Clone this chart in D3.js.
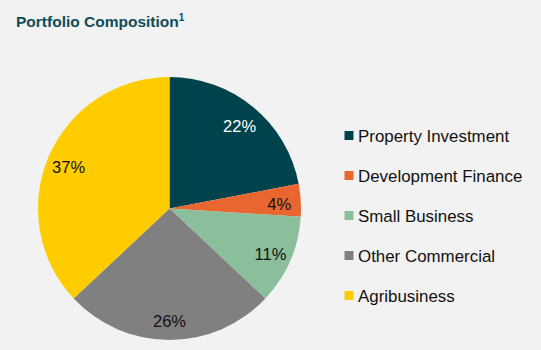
<!DOCTYPE html>
<html><head><meta charset="utf-8">
<script src="https://cdn.jsdelivr.net/npm/d3@7"></script>
<style>html,body{margin:0;padding:0;background:#F2F2F2;}svg{display:block;}</style>
</head><body><svg id="c" width="541" height="350"></svg>
<script>
const categories = ["Property Investment","Development Finance","Small Business","Other Commercial","Agribusiness"];
const values = [22, 4, 11, 26, 37];
const labels = ["22%","4%","11%","26%","37%"];
const colors = ["#00434C","#EA6630","#8BBE9A","#808080","#FFCC00"];
const labelColors = ["#FFFFFF","#111","#111","#111","#111"];

const svg = d3.select("#c");
const font = "'Liberation Sans', Arial, sans-serif";
svg.append("text").attr("x",16).attr("y",27).attr("fill","#0E4C5A")
  .style("font-family",font).style("font-weight","bold").style("font-size","15.5px")
  .text("Portfolio Composition").append("tspan").attr("dy",-6).style("font-size","10px").text("1");

const cx=169.5, cy=208.5, R=131.5;
const pie = d3.pie().sort(null).value(d=>d)(values);
const arc = d3.arc().innerRadius(0).outerRadius(R);
const lab = d3.arc().innerRadius(110).outerRadius(110);
const g = svg.append("g").attr("transform",`translate(${cx},${cy})`);
g.selectAll("path").data(pie).join("path").attr("d",arc).attr("fill",(d,i)=>colors[i]);
g.selectAll("text").data(pie).join("text")
  .attr("transform",d=>`translate(${lab.centroid(d)})`)
  .attr("text-anchor","middle").attr("dy","0.5em")
  .attr("fill",(d,i)=>labelColors[i])
  .style("font-family",font).style("font-size","16.5px")
  .text((d,i)=>labels[i]);

const y = d3.scalePoint().domain(categories).range([135.5,295.5]);
const lg = svg.append("g");
categories.forEach((c,i)=>{
  lg.append("rect").attr("x",344.5).attr("y",y(c)-4.5).attr("width",9).attr("height",9).attr("fill",colors[i]);
  lg.append("text").attr("x",358).attr("y",y(c)).attr("dy","0.36em").attr("fill","#111")
    .style("font-family",font).style("font-size","16.9px").text(c);
});
</script></body></html>
